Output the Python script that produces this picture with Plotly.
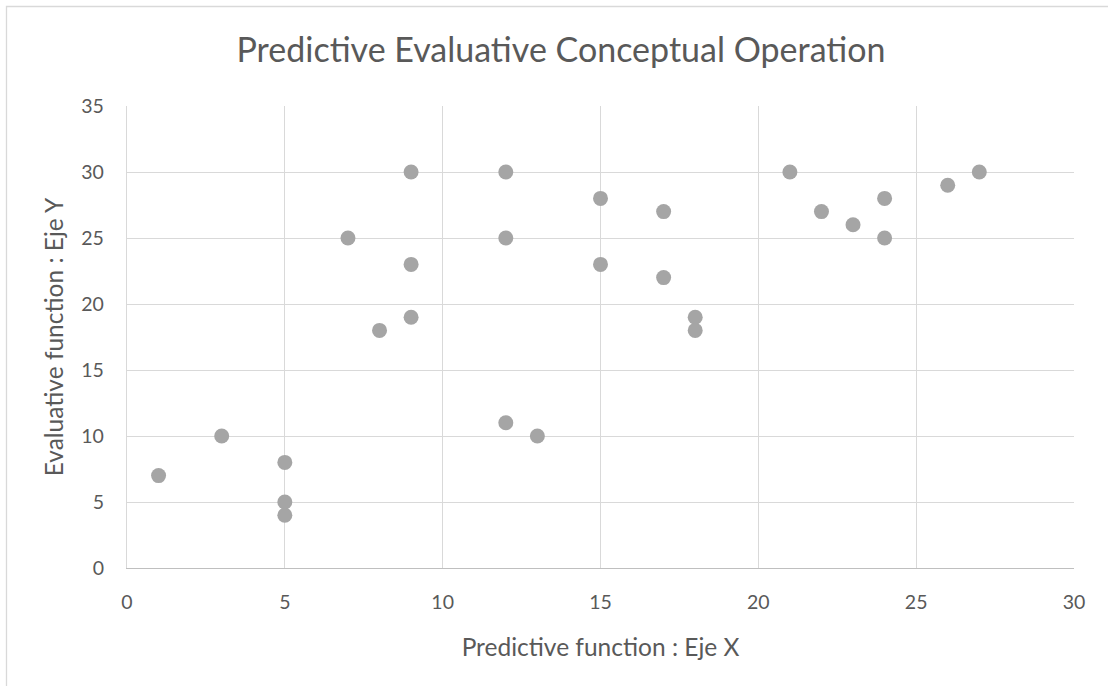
import plotly.graph_objects as go

x_vals = [1, 3, 5, 5, 5, 7, 8, 9, 9, 9, 12, 12, 12, 13, 15, 15, 17, 17, 18, 18, 21, 22, 23, 24, 24, 26, 27]
y_vals = [7, 10, 8, 5, 4, 25, 18, 30, 23, 19, 30, 25, 11, 10, 28, 23, 27, 22, 19, 18, 30, 27, 26, 28, 25, 29, 30]

title_text = "Predictive Evaluative Conceptual Operation"
x_title = "Predictive function : Eje X"
y_title = "Evaluative function : Eje Y"

FONT = "Lato"
TXT = "#595959"
GRID = "#D9D9D9"

fig = go.Figure(go.Scatter(
    x=x_vals, y=y_vals, mode="markers",
    marker=dict(size=15, color="#A5A5A5"),
    showlegend=False,
))

W, H = 1108, 686
L, R, T, B = 127, 34, 106, 118
pw, ph = W - L - R, H - T - B

def px_to_paper_x(px):
    return (px - L) / pw

def px_to_paper_y(py):
    return (H - B - py) / ph

fig.update_layout(
    width=W, height=H,
    margin=dict(l=L, r=R, t=T, b=B),
    paper_bgcolor="white", plot_bgcolor="white",
    font=dict(family=FONT, color=TXT),
    title=dict(text=title_text, x=561 / W, xanchor="center",
               y=1 - 50 / H, yanchor="middle",
               font=dict(size=34, color=TXT, family=FONT)),
    xaxis=dict(range=[0, 30], dtick=5, showgrid=True, gridcolor=GRID, gridwidth=1.3,
               showline=True, linecolor="#BFBFBF", linewidth=1.3, mirror=False,
               zeroline=False, ticks="", tickfont=dict(size=19.5, color=TXT),
               ticklabelstandoff=16,
               title=dict(text=x_title, font=dict(size=24.5, color=TXT), standoff=27)),
    yaxis=dict(range=[0, 35], dtick=5, showgrid=True, gridcolor=GRID, gridwidth=1.3,
               showline=True, linecolor="#D9D9D9", linewidth=1.3, mirror=False,
               zeroline=False, ticks="", tickfont=dict(size=19.5, color=TXT),
               ticklabelstandoff=18,
               title=dict(text=y_title, font=dict(size=24.5, color=TXT), standoff=10)),
    shapes=[
        dict(type="rect", xref="paper", yref="paper",
             x0=px_to_paper_x(6.5), x1=px_to_paper_x(1130),
             y0=px_to_paper_y(720), y1=px_to_paper_y(6.5),
             line=dict(color=GRID, width=1.3), fillcolor="rgba(0,0,0,0)", layer="below"),
    ],
)

fig.write_html("out.html", config={"displayModeBar": False},
               post_script="document.body.style.margin='0';document.body.style.overflow='hidden';")
